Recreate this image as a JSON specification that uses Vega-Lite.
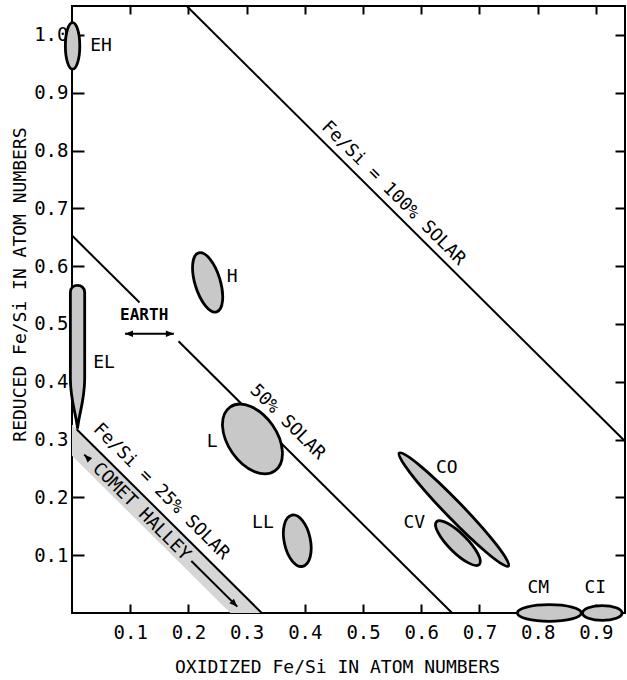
{
  "$schema": "https://vega.github.io/schema/vega-lite/v6.json",
  "width": 553,
  "height": 607,
  "autosize": {"type": "none"},
  "padding": {"left": 72, "top": 6, "right": 2, "bottom": 67},
  "background": "white",
  "config": {
    "view": {"stroke": "black", "strokeWidth": 2},
    "font": "DejaVu Sans Mono",
    "axis": {
      "domain": false, "grid": false, "tickColor": "black", "tickWidth": 2,
      "labelColor": "black", "labelFont": "DejaVu Sans Mono", "labelFontSize": 19,
      "titleFont": "DejaVu Sans Mono", "titleFontSize": 18, "titleFontWeight": "normal", "titleColor": "black"
    }
  },
  "datasets": {
    "band": [
      {"x": 0, "y": 0.326, "y2": 0.272},
      {"x": 0.272, "y": 0.054, "y2": 0},
      {"x": 0.326, "y": 0, "y2": 0}
    ],
    "lines": [
      {"line": "100% solar", "x": 0.197, "y": 1.05, "x2": 0.95, "y2": 0.297},
      {"line": "50% solar a", "x": 0, "y": 0.653, "x2": 0.116, "y2": 0.537},
      {"line": "50% solar b", "x": 0.183, "y": 0.47, "x2": 0.653, "y2": 0},
      {"line": "25% solar", "x": 0.008, "y": 0.318, "x2": 0.326, "y2": 0},
      {"line": "comet a", "x": 0.021, "y": 0.274, "x2": 0.03, "y2": 0.265},
      {"line": "comet b", "x": 0.205, "y": 0.09, "x2": 0.284, "y2": 0.011},
      {"line": "earth", "x": 0.091, "y": 0.483, "x2": 0.175, "y2": 0.483}
    ],
    "heads": [
      {"x": 0.091, "y": 0.483, "dir": "left"},
      {"x": 0.175, "y": 0.483, "dir": "right"},
      {"x": 0.021, "y": 0.274, "dir": "upleft"},
      {"x": 0.284, "y": 0.011, "dir": "downright"}
    ],
    "regions": [
      {"name": "EH", "x": 0.001, "y": 0.981, "a": 0.04, "tilt": 0},
      {"name": "EL", "x": 0.0095, "y": 0.443, "a": 0.123, "tilt": 0},
      {"name": "H", "x": 0.233, "y": 0.572, "a": 0.053, "tilt": -17},
      {"name": "L", "x": 0.31, "y": 0.301, "a": 0.067, "tilt": -35},
      {"name": "LL", "x": 0.387, "y": 0.125, "a": 0.045, "tilt": -12},
      {"name": "CO", "x": 0.656, "y": 0.179, "a": 0.135, "tilt": -44},
      {"name": "CV", "x": 0.663, "y": 0.121, "a": 0.052, "tilt": -45},
      {"name": "CM", "x": 0.82, "y": 0.0, "a": 0.055, "tilt": 90},
      {"name": "CI", "x": 0.911, "y": 0.0, "a": 0.034, "tilt": 90}
    ],
    "labels": [
      {"text": "EH", "x": 0.05, "y": 0.981},
      {"text": "H", "x": 0.275, "y": 0.581},
      {"text": "EL", "x": 0.055, "y": 0.432},
      {"text": "L", "x": 0.241, "y": 0.295},
      {"text": "LL", "x": 0.328, "y": 0.155},
      {"text": "CO", "x": 0.644, "y": 0.25},
      {"text": "CV", "x": 0.588, "y": 0.155},
      {"text": "CM", "x": 0.801, "y": 0.044},
      {"text": "CI", "x": 0.899, "y": 0.044}
    ],
    "earth": [
      {"text": "EARTH", "x": 0.124, "y": 0.516}
    ],
    "slanted": [
      {"text": "Fe/Si = 100% SOLAR", "x": 0.552, "y": 0.726},
      {"text": "50% SOLAR", "x": 0.37, "y": 0.33},
      {"text": "Fe/Si = 25% SOLAR", "x": 0.153, "y": 0.21},
      {"text": "COMET HALLEY", "x": 0.119, "y": 0.175}
    ]
  },
  "resolve": {"axis": {"x": "independent", "y": "independent"}, "scale": {"shape": "independent", "size": "independent"}},
  "layer": [
    {
      "data": {"name": "band"},
      "mark": {"type": "area", "fill": "#d6d6d6", "stroke": null, "opacity": 1},
      "encoding": {
        "x": {"field": "x", "type": "quantitative", "scale": {"domain": [0, 0.95], "nice": false, "zero": false},
          "axis": {"orient": "bottom", "values": [0.1, 0.2, 0.3, 0.4, 0.5, 0.6, 0.7, 0.8, 0.9], "format": ".1f",
            "tickSize": -9, "labelPadding": 19, "title": "OXIDIZED Fe/Si IN ATOM NUMBERS",
            "titleX": 265, "titleY": 54, "titleBaseline": "middle", "titleAlign": "center", "titlePadding": 0}},
        "y": {"field": "y", "type": "quantitative", "scale": {"domain": [0, 1.05], "nice": false, "zero": false},
          "axis": {"orient": "left", "values": [0.1, 0.2, 0.3, 0.4, 0.5, 0.6, 0.7, 0.8, 0.9, 1.0], "format": ".1f",
            "tickSize": -12, "labelPadding": 16, "title": "REDUCED Fe/Si IN ATOM NUMBERS",
            "titleX": -52, "titleY": 278, "titleAngle": -90, "titleBaseline": "middle", "titleAlign": "center", "titlePadding": 0}},
        "y2": {"field": "y2"}
      }
    },
    {
      "data": {"name": "lines"},
      "mark": {"type": "rule", "color": "black", "strokeWidth": 2},
      "encoding": {
        "x": {"field": "x", "type": "quantitative", "scale": {"domain": [0, 0.95], "nice": false, "zero": false},
          "axis": {"orient": "top", "values": [0.1, 0.2, 0.3, 0.4, 0.5, 0.6, 0.7, 0.8, 0.9], "labels": false, "tickSize": -8, "title": null}},
        "y": {"field": "y", "type": "quantitative", "scale": {"domain": [0, 1.05], "nice": false, "zero": false},
          "axis": {"orient": "right", "values": [0.1, 0.2, 0.3, 0.4, 0.5, 0.6, 0.7, 0.8, 0.9, 1.0], "labels": false, "tickSize": -10, "title": null}},
        "x2": {"field": "x2"},
        "y2": {"field": "y2"}
      }
    },
    {
      "data": {"name": "heads"},
      "mark": {"type": "point", "filled": true, "color": "black", "opacity": 1, "size": 64},
      "encoding": {
        "x": {"field": "x", "type": "quantitative", "scale": {"domain": [0, 0.95], "nice": false, "zero": false}, "axis": null},
        "y": {"field": "y", "type": "quantitative", "scale": {"domain": [0, 1.05], "nice": false, "zero": false}, "axis": null},
        "shape": {"field": "dir", "type": "nominal", "legend": null,
          "scale": {"domain": ["left", "right", "upleft", "downright"],
            "range": ["M0,0L2,-0.8L2,0.8Z", "M0,0L-2,-0.8L-2,0.8Z", "M0,0L0.849,1.98L1.98,0.849Z", "M0,0L-0.849,-1.98L-1.98,-0.849Z"]}}
      }
    },
    {
      "data": {"name": "regions"},
      "mark": {"type": "point", "filled": true, "fill": "#c8c8c8", "stroke": "black", "strokeWidth": 2.8, "opacity": 1, "fillOpacity": 1, "strokeOpacity": 1},
      "encoding": {
        "x": {"field": "x", "type": "quantitative", "scale": {"domain": [0, 0.95], "nice": false, "zero": false}, "axis": null},
        "y": {"field": "y", "type": "quantitative", "scale": {"domain": [0, 1.05], "nice": false, "zero": false}, "axis": null},
        "size": {"field": "a", "type": "quantitative", "legend": null,
          "scale": {"type": "pow", "exponent": 2, "domain": [0, 1], "range": [0, 1354896], "zero": true}},
        "angle": {"field": "tilt", "type": "quantitative", "scale": null},
        "shape": {"field": "name", "type": "nominal", "legend": null,
          "scale": {"domain": ["EH", "EL", "H", "L", "LL", "CO", "CV", "CM", "CI"],
            "range": [
              "M0,-1C0.171,-1 0.31,-0.552 0.31,0C0.31,0.552 0.171,1 0,1C-0.171,1 -0.31,0.552 -0.31,0C-0.31,-0.552 -0.171,-1 0,-1Z",
              "M0,1C-0.02,0.8 -0.1,0.6 -0.1,0.3L-0.1,-0.9C-0.1,-1.033 0.1,-1.033 0.1,-0.9L0.1,0.3C0.1,0.6 0.02,0.8 0,1Z",
              "M0,-1C0.226,-1 0.41,-0.552 0.41,0C0.41,0.552 0.226,1 0,1C-0.226,1 -0.41,0.552 -0.41,0C-0.41,-0.552 -0.226,-1 0,-1Z",
              "M0,-1C0.345,-1 0.625,-0.552 0.625,0C0.625,0.552 0.345,1 0,1C-0.345,1 -0.625,0.552 -0.625,0C-0.625,-0.552 -0.345,-1 0,-1Z",
              "M0,-1C0.276,-1 0.5,-0.552 0.5,0C0.5,0.552 0.276,1 0,1C-0.276,1 -0.5,0.552 -0.5,0C-0.5,-0.552 -0.276,-1 0,-1Z",
              "M0,-1C0.061,-1 0.11,-0.552 0.11,0C0.11,0.552 0.061,1 0,1C-0.061,1 -0.11,0.552 -0.11,0C-0.11,-0.552 -0.061,-1 0,-1Z",
              "M0,-1C0.171,-1 0.31,-0.552 0.31,0C0.31,0.552 0.171,1 0,1C-0.171,1 -0.31,0.552 -0.31,0C-0.31,-0.552 -0.171,-1 0,-1Z",
              "M0,-1C0.144,-1 0.26,-0.552 0.26,0C0.26,0.552 0.144,1 0,1C-0.144,1 -0.26,0.552 -0.26,0C-0.26,-0.552 -0.144,-1 0,-1Z",
              "M0,-1C0.207,-1 0.375,-0.552 0.375,0C0.375,0.552 0.207,1 0,1C-0.207,1 -0.375,0.552 -0.375,0C-0.375,-0.552 -0.207,-1 0,-1Z"
            ]}}
      }
    },
    {
      "data": {"name": "labels"},
      "mark": {"type": "text", "font": "DejaVu Sans Mono", "fontSize": 18, "color": "black", "align": "center", "baseline": "middle"},
      "encoding": {
        "x": {"field": "x", "type": "quantitative", "scale": {"domain": [0, 0.95], "nice": false, "zero": false}, "axis": null},
        "y": {"field": "y", "type": "quantitative", "scale": {"domain": [0, 1.05], "nice": false, "zero": false}, "axis": null},
        "text": {"field": "text"}
      }
    },
    {
      "data": {"name": "earth"},
      "mark": {"type": "text", "font": "DejaVu Sans Mono", "fontSize": 16, "fontWeight": "bold", "color": "black", "align": "center", "baseline": "middle"},
      "encoding": {
        "x": {"field": "x", "type": "quantitative", "scale": {"domain": [0, 0.95], "nice": false, "zero": false}, "axis": null},
        "y": {"field": "y", "type": "quantitative", "scale": {"domain": [0, 1.05], "nice": false, "zero": false}, "axis": null},
        "text": {"field": "text"}
      }
    },
    {
      "data": {"name": "slanted"},
      "mark": {"type": "text", "font": "DejaVu Sans Mono", "fontSize": 18, "color": "black", "align": "center", "baseline": "middle", "angle": 45},
      "encoding": {
        "x": {"field": "x", "type": "quantitative", "scale": {"domain": [0, 0.95], "nice": false, "zero": false}, "axis": null},
        "y": {"field": "y", "type": "quantitative", "scale": {"domain": [0, 1.05], "nice": false, "zero": false}, "axis": null},
        "text": {"field": "text"}
      }
    }
  ]
}
